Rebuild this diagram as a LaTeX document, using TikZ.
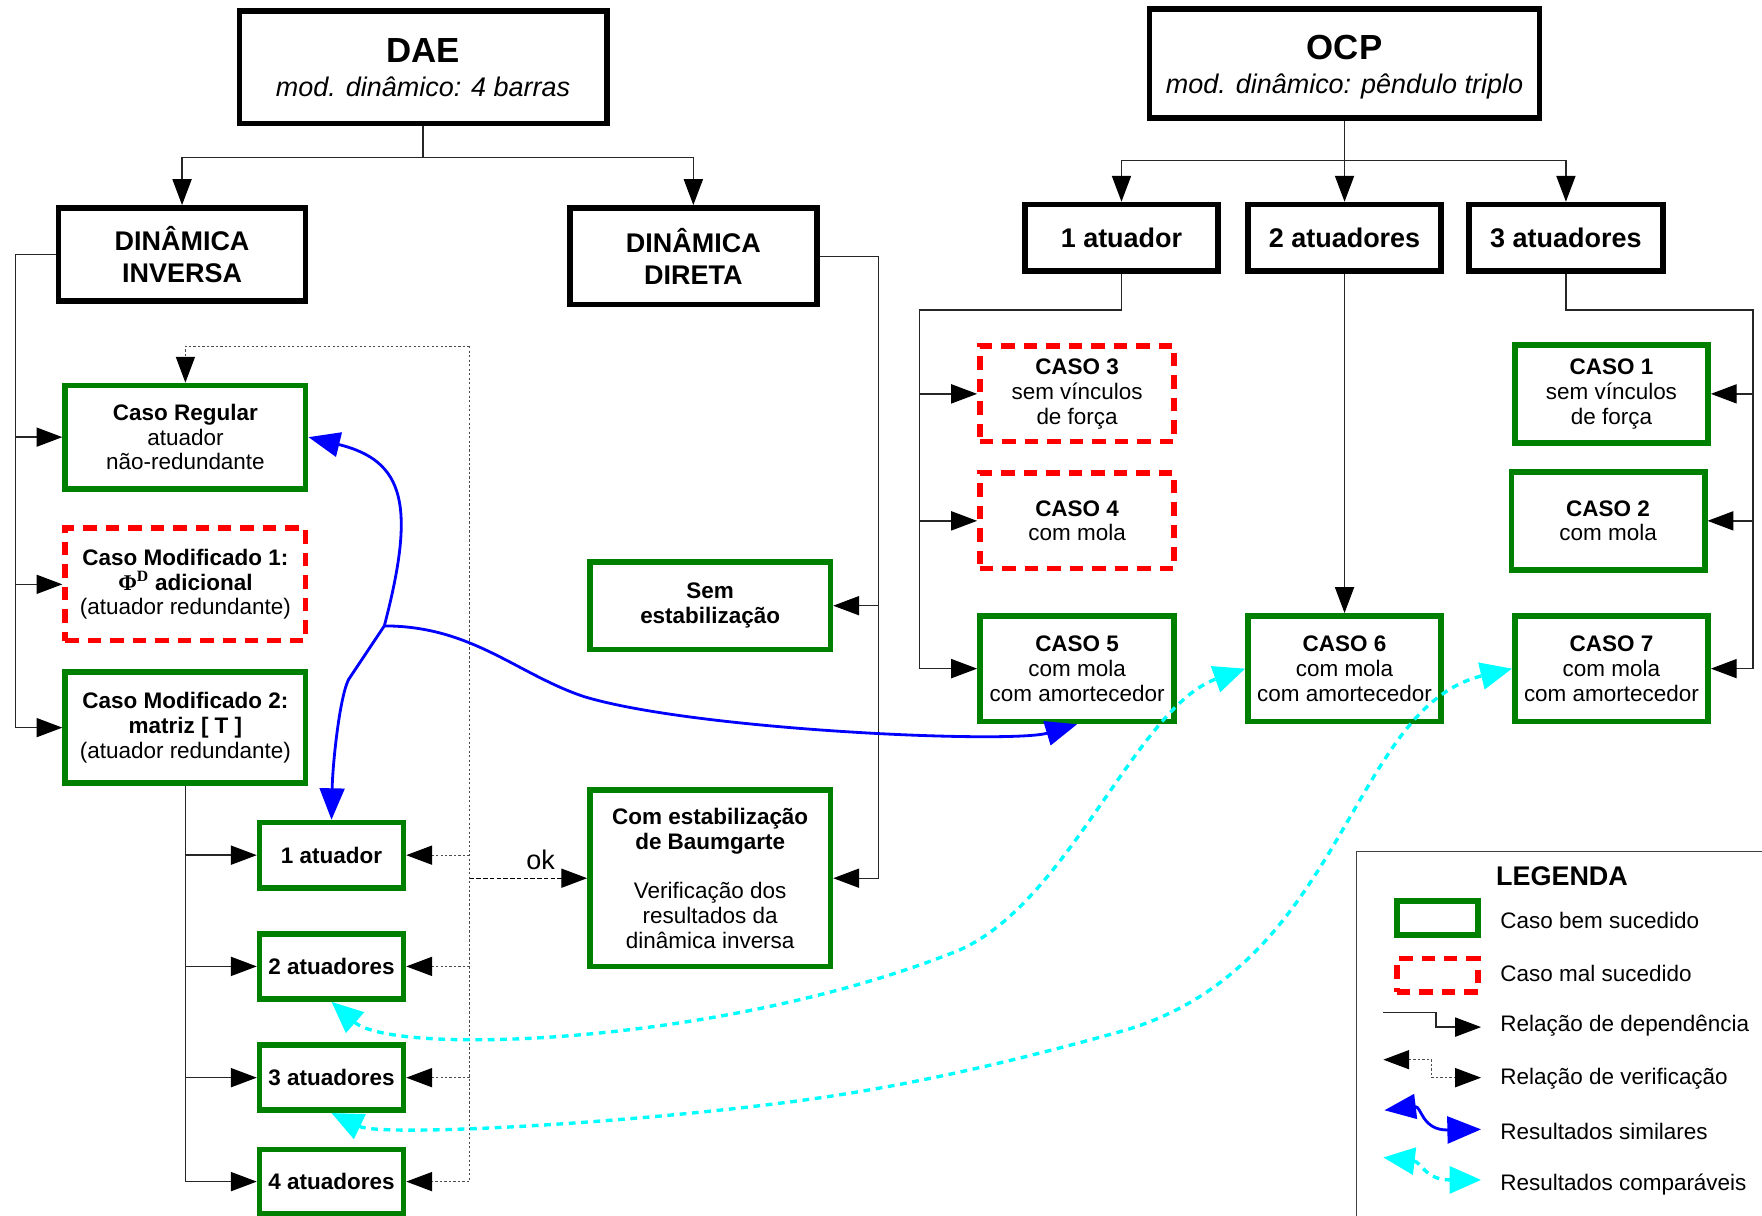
\documentclass[tikz,border=0pt]{standalone}
\usepackage{fontspec}
\setmainfont{Liberation Sans}
\newfontfamily\phifont{Liberation Serif}
\usetikzlibrary{arrows.meta}
\definecolor{okgreen}{RGB}{0,128,0}
\definecolor{aqua}{RGB}{0,255,255}
\definecolor{pureblue}{RGB}{0,0,255}
\definecolor{purered}{RGB}{255,0,0}
\begin{document}
\begin{tikzpicture}[x=1pt,y=-1pt,
  bigbox/.style={draw=black, line width=5pt, fill=white, align=center, inner sep=1pt, font=\fontsize{24}{28}\selectfont\bfseries},
  goodbox/.style={draw=okgreen, line width=5pt, fill=white, align=center, inner sep=1pt, font=\fontsize{20}{22}\selectfont},
  badbox/.style={draw=purered, line width=5pt, dash pattern=on 12pt off 8pt, fill=white, align=center, inner sep=1pt, font=\fontsize{20}{22}\selectfont},
  conn/.style={line width=1.2pt, draw=black!85},
  dep/.style={conn, -{Triangle[length=23pt,width=17pt,color=black]}},
  verline/.style={line width=1pt, draw=black!70, dash pattern=on 2pt off 2pt},
  ver/.style={verline, -{Triangle[length=23pt,width=17pt,color=black]}},
  verb/.style={verline, {Triangle[length=23pt,width=17pt,color=black]}-{Triangle[length=23pt,width=17pt,color=black]}},
  okline/.style={line width=1.2pt, draw=black, dash pattern=on 4pt off 2pt, -{Triangle[length=23pt,width=17pt,color=black]}},
  simline/.style={line width=2.5pt, draw=pureblue},
  sim/.style={simline, -{Triangle[length=28pt,width=22pt]}},
  simb/.style={simline, {Triangle[length=28pt,width=22pt]}-{Triangle[length=30pt,width=24pt]}},
  comp/.style={line width=3pt, draw=aqua, dash pattern=on 6pt off 5pt, {Triangle[length=28pt,width=24pt]}-{Triangle[length=28pt,width=24pt]}},
  legtext/.style={anchor=west, font=\fontsize{20}{22}\selectfont, inner sep=0pt}
]
\useasboundingbox (0,0) rectangle (1568,1082);

% ---- top boxes
\node[bigbox, minimum width=327pt, minimum height=100pt] (dae) at (376.5,60)
  {{\fontsize{31}{31}\selectfont DAE}\\[2pt]{\mdseries\itshape mod. dinâmico: 4 barras}};
\node[bigbox, minimum width=347pt, minimum height=97pt] (ocp) at (1196.5,56.5) {};
\node[align=center, inner sep=1pt, font=\fontsize{24}{28}\selectfont\bfseries] (ocpt) at (1196.5,59.5)
  {{\fontsize{31}{31}\selectfont OCP}\\[2pt]{\mdseries\itshape mod. dinâmico: pêndulo triplo}};

\node[bigbox, minimum width=220pt, minimum height=83pt] (dinv) at (162,226.5) {DINÂMICA\\INVERSA};
\node[bigbox, minimum width=220pt, minimum height=86pt] (ddir) at (617,228) {DINÂMICA\\DIRETA};

\node[bigbox, minimum width=172pt, minimum height=59pt] (a1) at (998,211.5) {1 atuador};
\node[bigbox, minimum width=172pt, minimum height=59pt] (a2) at (1196.5,211.5) {2 atuadores};
\node[bigbox, minimum width=173pt, minimum height=59pt] (a3) at (1393.5,211.5) {3 atuadores};

% ---- OCP cases
\node[badbox, minimum width=173pt, minimum height=85pt] (c3) at (958.5,350.5) {\textbf{CASO 3}\\sem vínculos\\de força};
\node[badbox, minimum width=173pt, minimum height=85pt] (c4) at (958.5,463.5) {\textbf{CASO 4}\\com mola};
\node[goodbox, minimum width=173pt, minimum height=94pt] (c5) at (958.5,595) {\textbf{CASO 5}\\com mola\\com amortecedor};
\node[goodbox, minimum width=172pt, minimum height=94pt] (c6) at (1196.5,595) {\textbf{CASO 6}\\com mola\\com amortecedor};
\node[goodbox, minimum width=172pt, minimum height=94pt] (c7) at (1434,595) {\textbf{CASO 7}\\com mola\\com amortecedor};
\node[goodbox, minimum width=172pt, minimum height=87pt] (c1) at (1434,350.5) {\textbf{CASO 1}\\sem vínculos\\de força};
\node[goodbox, minimum width=172pt, minimum height=87pt] (c2) at (1431,463.5) {\textbf{CASO 2}\\com mola};

% ---- DAE inverse cases
\node[goodbox, minimum width=214pt, minimum height=92pt] (creg) at (165,389) {\textbf{Caso Regular}\\atuador\\não-redundante};
\node[badbox, minimum width=214pt, minimum height=100pt] (cm1) at (165,520)
  {\textbf{Caso Modificado 1:}\\{\phifont\bfseries Φ\textsuperscript{D}}\textbf{ adicional}\\(atuador redundante)};
\node[goodbox, minimum width=214pt, minimum height=99pt] (cm2) at (165,647.5)
  {\textbf{Caso Modificado 2:}\\\textbf{matriz [ T ]}\\(atuador redundante)};

\node[goodbox, font=\fontsize{20}{22}\selectfont\bfseries, minimum width=128pt, minimum height=58pt] (s1) at (295,761) {1 atuador};
\node[goodbox, font=\fontsize{20}{22}\selectfont\bfseries, minimum width=128pt, minimum height=58pt] (s2) at (295,860) {2 atuadores};
\node[goodbox, font=\fontsize{20}{22}\selectfont\bfseries, minimum width=128pt, minimum height=58pt] (s3) at (295,959) {3 atuadores};
\node[goodbox, font=\fontsize{20}{22}\selectfont\bfseries, minimum width=128pt, minimum height=57pt] (s4) at (295,1051.5) {4 atuadores};

% ---- DAE direct cases
\node[goodbox, minimum width=214pt, minimum height=78pt] (sem) at (632,539) {\textbf{Sem}\\\textbf{estabilização}};
\node[goodbox, minimum width=214pt, minimum height=157pt] (com) at (632,781.5)
  {\textbf{Com estabilização}\\\textbf{de Baumgarte}\\[22pt]Verificação dos\\resultados da\\dinâmica inversa};

% ---- dependency connectors
\coordinate (daej) at (376.5,140);
\draw[dep] (dae.south) -- (daej) -| (dinv.north);
\draw[dep] (daej) -| (ddir.north);

\coordinate (ocpj) at (1196.5,143);
\draw[dep] (ocp.south) -- (ocpj) -| (a1.north);
\draw[dep] (ocpj) -| (a3.north);
\draw[dep] (ocpj) -- (a2.north);

\coordinate (b1) at (818,276);
\draw[dep] (a1.south) |- (b1) |- (c5.west);
\draw[dep] (b1 |- c3.west) -- (c3.west);
\draw[dep] (b1 |- c4.west) -- (c4.west);

\coordinate (b3) at (1560,276);
\draw[dep] (a3.south) |- (b3) |- (c7.east);
\draw[dep] (b3 |- c1.east) -- (c1.east);
\draw[dep] (b3 |- c2.east) -- (c2.east);

\draw[dep] (a2.south) -- (c6.north);

\coordinate (bl) at (14,226.5);
\draw[dep] (dinv.west) -- (bl) |- (cm2.west);
\draw[dep] (bl |- creg.west) -- (creg.west);
\draw[dep] (bl |- cm1.west) -- (cm1.west);

\coordinate (br) at (782,228);
\draw[dep] (ddir.east) -- (br) |- (com.east);
\draw[dep] (br |- sem.east) -- (sem.east);

\draw[dep] (cm2.south) |- (s4.west);
\draw[dep] (cm2.south |- s1.west) -- (s1.west);
\draw[dep] (cm2.south |- s2.west) -- (s2.west);
\draw[dep] (cm2.south |- s3.west) -- (s3.west);

% ---- verification connectors
\coordinate (vt) at (418,308);
\draw[ver] (vt) -| (creg.north);
\draw[ver] (vt) |- (s4.east);
\draw[ver] (vt |- s1.east) -- (s1.east);
\draw[ver] (vt |- s2.east) -- (s2.east);
\draw[ver] (vt |- s3.east) -- (s3.east);
\draw[okline] (vt |- com.west) -- (com.west);
\node[font=\fontsize{24}{28}\selectfont, inner sep=0pt] (ok) at (481,765) {ok};

% ---- similar results (blue)
\coordinate (J) at (342,557);
\draw[sim] (J) .. controls (370,450) and (360.5,410) .. (creg.east);
\draw[sim] (J) -- (310,605) .. controls (302,622) and (296,680) .. (s1.north);
\draw[sim] (J) .. controls (420,557) and (460,600) .. (520,620) .. controls (620,650) and (900,662) .. (c5.south);

% ---- comparable results (cyan)
\draw[comp] (s2.south) .. controls (350,940) and (640,930) .. (850,847) .. controls (950,807) and (1010,630) .. (c6.west);
\draw[comp] (s3.south) .. controls (340,1012) and (560,1000) .. (715,979) .. controls (810,966) and (900,945) .. (997,918) .. controls (1197,862) and (1200,630) .. (c7.west);

% ---- legend
\draw[line width=1pt, draw=black!75] (1207,1100) |- (1600,758);
\node[font=\fontsize{24}{28}\selectfont\bfseries, inner sep=0pt] (legt) at (1390,780) {LEGENDA};
\node[draw=okgreen, line width=5pt, minimum width=72pt, minimum height=30pt, inner sep=0pt] (lg) at (1279,817) {};
\node[legtext] (lgt) at (1335,819) {Caso bem sucedido};
\node[draw=purered, line width=5pt, dash pattern=on 12pt off 8pt, minimum width=72pt, minimum height=30pt, inner sep=0pt] (lr) at (1279,868) {};
\node[legtext] (lrt) at (1335,866) {Caso mal sucedido};
\coordinate (ld1) at (1231,901);
\coordinate (ld2) at (1318,914);
\draw[dep] (ld1) -| (1278,914) -- (ld2);
\node[legtext] (ldt) at (1335,913) {Relação de dependência};
\coordinate (lv1) at (1231,943);
\coordinate (lv2) at (1318,959);
\draw[verb] (lv1) -| (1274,959) -- (lv2);
\node[legtext] (lvt) at (1335,960) {Relação de verificação};
\coordinate (lb1) at (1232,988);
\coordinate (lb2) at (1318,1005);
\draw[simb] (lb1) .. controls (1265,984) and (1265,1006) .. (lb2);
\node[legtext] (lbt) at (1335,1007) {Resultados similares};
\coordinate (lc1) at (1231,1030);
\coordinate (lc2) at (1318,1050);
\draw[comp] (lc1) .. controls (1265,1034) and (1268,1050) .. (lc2);
\node[legtext] (lct) at (1335,1054) {Resultados comparáveis};
\end{tikzpicture}
\end{document}
